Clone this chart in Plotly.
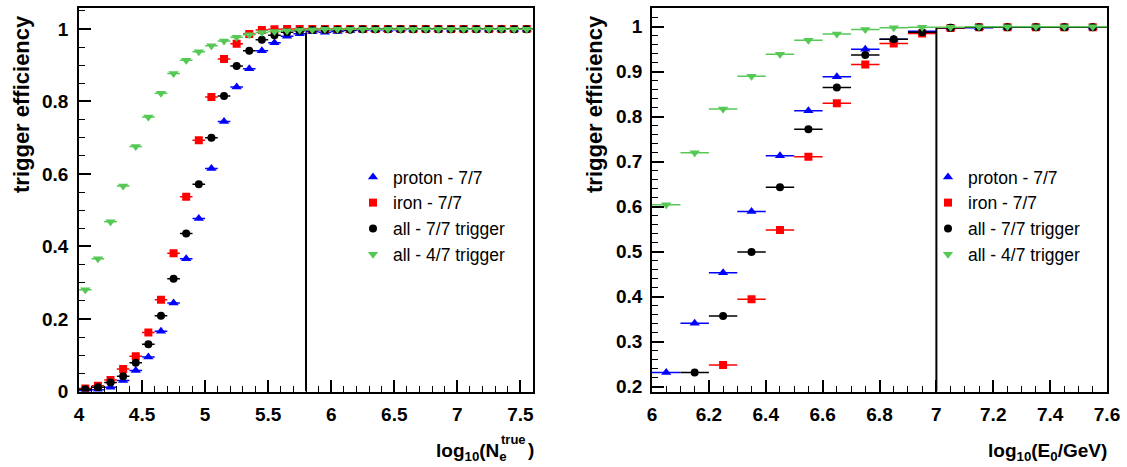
import plotly.graph_objects as go

W, H = 1127, 467

# ---------------- data ----------------
ne_bins = [4.05, 4.15, 4.25, 4.35, 4.45, 4.55, 4.65, 4.75, 4.85, 4.95,
           5.05, 5.15, 5.25, 5.35, 5.45, 5.55, 5.65, 5.75, 5.85, 5.95,
           6.05, 6.15, 6.25, 6.35, 6.45, 6.55, 6.65, 6.75, 6.85, 6.95,
           7.05, 7.15, 7.25, 7.35, 7.45, 7.55]
ne_proton = [0.002, 0.005, 0.012, 0.030, 0.058, 0.095, 0.166, 0.244, 0.366, 0.477,
             0.615, 0.745, 0.840, 0.890, 0.940, 0.962, 0.980, 0.987, 0.992, 0.991,
             0.993, 0.996, 0.997, 0.998, 0.998, 0.998, 0.999, 0.999, 0.999, 0.999,
             0.999, 0.999, 0.999, 0.999, 0.999, 0.999]
ne_iron = [0.008, 0.016, 0.032, 0.062, 0.097, 0.163, 0.253, 0.381, 0.537, 0.693,
           0.812, 0.917, 0.959, 0.986, 0.997, 0.999, 1.000, 1.000, 1.000, 1.000,
           1.000, 1.000, 1.000, 1.000, 1.000, 1.000, 1.000, 1.000, 1.000, 1.000,
           1.000, 1.000, 1.000, 1.000, 1.000, 1.000]
ne_all7 = [0.006, 0.012, 0.025, 0.042, 0.079, 0.130, 0.209, 0.311, 0.436, 0.572,
           0.700, 0.815, 0.898, 0.940, 0.970, 0.983, 0.991, 0.995, 0.997, 0.998,
           0.998, 0.998, 0.999, 0.999, 0.999, 0.999, 0.999, 0.999, 0.999, 0.999,
           0.999, 0.999, 0.999, 0.999, 0.999, 0.999]
ne_all4 = [0.281, 0.366, 0.468, 0.567, 0.676, 0.757, 0.823, 0.877, 0.914, 0.937,
           0.954, 0.967, 0.977, 0.984, 0.990, 0.993, 0.995, 0.997, 0.998, 0.999,
           0.999, 0.999, 0.999, 0.999, 0.999, 0.999, 0.999, 0.999, 0.999, 0.999,
           0.999, 0.999, 0.999, 0.999, 0.999, 0.999]

e0_bins = [6.05, 6.15, 6.25, 6.35, 6.45, 6.55, 6.65, 6.75,
           6.85, 6.95, 7.05, 7.15, 7.25, 7.35, 7.45, 7.55]
e0_proton = [0.231, 0.341, 0.453, 0.589, 0.713, 0.813, 0.889, 0.950,
             0.972, 0.990, 0.997, 0.998, 0.999, 0.999, 0.999, 0.999]
e0_iron = [None, None, 0.248, 0.394, 0.548, 0.711, 0.830, 0.916,
           0.963, 0.985, 0.997, 0.999, 0.999, 0.999, 0.999, 0.999]
e0_all7 = [None, 0.231, 0.357, 0.499, 0.643, 0.772, 0.865, 0.937,
           0.972, 0.988, 0.998, 0.999, 0.999, 0.999, 0.999, 0.999]
e0_all4 = [0.604, 0.720, 0.817, 0.890, 0.939, 0.970, 0.984, 0.994,
           0.998, 0.999, 0.999, 1.000, 1.000, 1.000, 1.000, 1.000]

bin_half_width = 0.05
cut_ne = 5.8
cut_e0 = 7.0

series_names = ["proton - 7/7", "iron - 7/7", "all - 7/7 trigger", "all - 4/7 trigger"]

# ---------------- styles ----------------
colors = ["#0000ff", "#ff0000", "#000000", "#55c855"]
symbols = ["triangle-up", "square", "circle", "triangle-down"]
msizes = [9, 8, 8, 9]


def px(x):
    return x / W


def py(y):
    return 1 - y / H


fig = go.Figure()

left_sets = [ne_proton, ne_iron, ne_all7, ne_all4]
right_sets = [e0_proton, e0_iron, e0_all7, e0_all4]

for i in range(4):
    fig.add_trace(go.Scatter(
        x=ne_bins, y=left_sets[i], mode="markers", name=series_names[i],
        marker=dict(symbol=symbols[i], color=colors[i], size=msizes[i]),
        error_x=dict(type="constant", value=bin_half_width, color=colors[i],
                     thickness=1.5, width=0),
        xaxis="x", yaxis="y", legend="legend", showlegend=True,
    ))
for i in range(4):
    fig.add_trace(go.Scatter(
        x=e0_bins, y=right_sets[i], mode="markers", name=series_names[i],
        marker=dict(symbol=symbols[i], color=colors[i], size=msizes[i]),
        error_x=dict(type="constant", value=bin_half_width, color=colors[i],
                     thickness=1.5, width=0),
        xaxis="x2", yaxis="y2", legend="legend2", showlegend=True,
    ))

FONT = "Liberation Sans, Arial, sans-serif"
tickfont = dict(family=FONT, size=19, color="black", weight="bold")
ydom = [py(391.5), py(8.3)]


def axis(domain, rng, dtick, minor_dtick, anchor, standoff):
    return dict(
        domain=domain, range=rng, anchor=anchor, automargin=False,
        showgrid=False, zeroline=False,
        showline=True, linecolor="black", linewidth=1.5, mirror=True,
        ticks="inside", ticklen=12, tickwidth=1.5, tickcolor="black",
        dtick=dtick, tick0=0, ticklabelstandoff=standoff,
        minor=dict(ticks="inside", ticklen=6, tickwidth=1.2, tickcolor="black",
                   dtick=minor_dtick, tick0=0, showgrid=False),
        tickfont=tickfont,
    )


legfont = dict(family=FONT, size=17.5, color="black")
layout = dict(
    width=W, height=H,
    template="none",
    margin=dict(l=0, r=0, t=0, b=0, pad=0, autoexpand=False),
    paper_bgcolor="white", plot_bgcolor="white",
    xaxis=axis([px(79), px(533)], [4, 7.6], 0.5, 0.1, "y", 5),
    yaxis=axis(ydom, [0, 1.057], 0.2, 0.05, "x", 5),
    xaxis2=axis([px(652), px(1107)], [6, 7.6], 0.2, 0.05, "y2", 5),
    yaxis2=axis(ydom, [0.189, 1.041], 0.1, 0.02, "x2", 4),
    legend=dict(x=px(353), y=py(159), xanchor="left", yanchor="top",
                bgcolor="rgba(0,0,0,0)", borderwidth=0, font=legfont),
    legend2=dict(x=px(928), y=py(159), xanchor="left", yanchor="top",
                 bgcolor="rgba(0,0,0,0)", borderwidth=0, font=legfont),
)
fig.update_layout(**layout)

# cut lines
fig.add_shape(type="line", xref="x", yref="y", x0=cut_ne, x1=cut_ne, y0=0, y1=0.99,
              line=dict(color="black", width=2))
fig.add_shape(type="line", xref="x2", yref="y2", x0=cut_e0, x1=cut_e0, y0=0.189, y1=0.997,
              line=dict(color="black", width=2))

titlefont = dict(family=FONT, size=22, color="black", weight="bold")
xtfont = dict(family=FONT, size=19, color="black", weight="bold")
smallfont = dict(family=FONT, size=13, color="black", weight="bold")

ann = [
    dict(text="trigger efficiency", x=px(21), y=py(104), textangle=-90, font=titlefont),
    dict(text="trigger efficiency", x=px(594), y=py(104), textangle=-90, font=titlefont),
    dict(text="log<sub>10</sub>(N<sub>e</sub>", x=px(509), y=py(452), xanchor="right", font=xtfont),
    dict(text="true", x=px(499), y=py(439), xanchor="left", font=smallfont),
    dict(text=")", x=px(536), y=py(449), xanchor="right", font=xtfont),
    dict(text="log<sub>10</sub>(E<sub>0</sub>/GeV)", x=px(1109), y=py(452), xanchor="right", font=xtfont),
]
for a in ann:
    a.update(xref="paper", yref="paper", showarrow=False)
    a.setdefault("xanchor", "center")
    a.setdefault("yanchor", "middle")
fig.update_layout(annotations=ann)

# remove the browser's default 8px page margin so the figure fills the window exactly
fig.write_html("out.html",
               config={"displayModeBar": False},
               post_script="document.body.style.margin='0px';document.body.style.overflow='hidden';")
